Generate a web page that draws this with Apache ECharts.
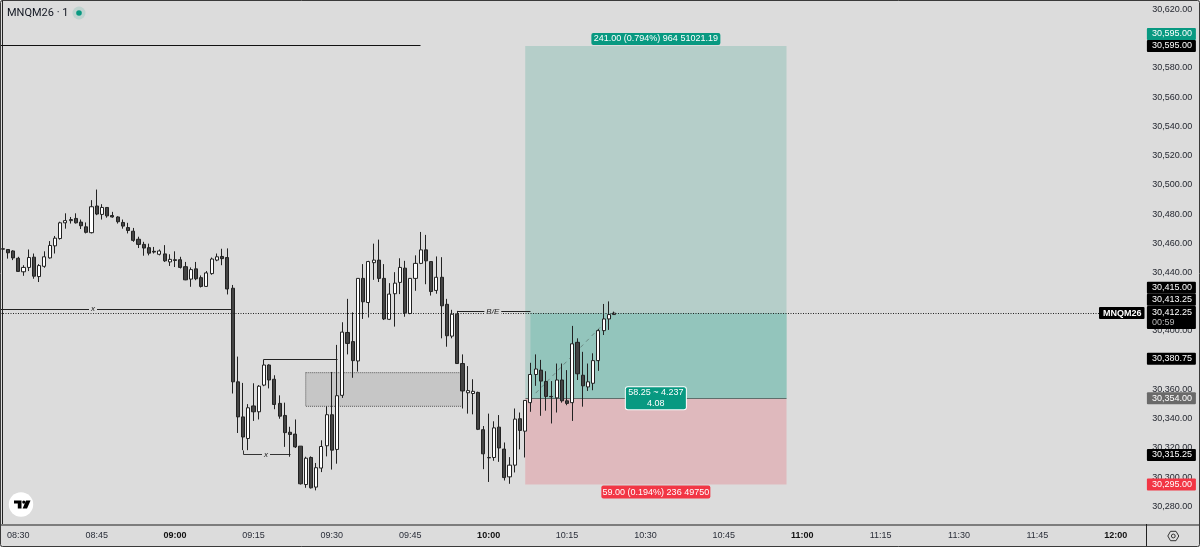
<!DOCTYPE html>
<html>
<head>
<meta charset="utf-8">
<style>html,body{margin:0;padding:0;background:#dcdcdc}#chart{width:1200px;height:547px}</style>
<script src="https://cdn.jsdelivr.net/npm/echarts@6/dist/echarts.min.js"></script>
</head>
<body>
<div id="chart"></div>
<script>
// MNQM26 one-minute session, prices are offsets from this base
const basePrice = 30000;
const sessionStart = 8 * 60 + 27;
const slotCount = 219;

const opens = [456.25,455.75,454.75,449.75,440.5,443.5,450.5,437.25,444.25,450,458.25,463.25,474,475.5,477,474.5,471.25,467.25,485.5,479.75,484.5,479,478,474.25,470.75,468.25,462.75,459.25,457,454.5,452.5,452.75,447.25,448.75,448.75,444,435.5,442.5,436.5,430.5,439.25,448.5,451,450.25,
429.25,365.25,341.25,326.5,348.75,344.75,363,376.75,367,350.5,342.25,330.75,329.5,321.25,295,313.5,293.25,306.25,321.5,342.75,319,356,399,392.75,379.5,436,419.5,446.75,448.5,436,408,425.5,433.25,443,412,436,446.25,455.5,447.5,427.75,436.75,418.25,396.5,411.5,377.75,357.75,357.25,358,332.5,313.5,313.5,334.25,319.25,300.25,308.25,340,331.5,351,370.25,373.25,365.5,355.25,354.25,366.5,352.25,351,392.25,369.75,361.75,364.25,379.75,400.25,408.25,411.25];
const closes = [456,453.5,450,440.75,443.5,450.25,437.5,444.75,450.75,458.5,463.5,474,475.5,476.25,474,472,467.5,485,480,484.5,478.75,478,474.75,471.75,468.75,462,459.25,456.75,453.25,454,454.75,448,449,448.25,443.5,435,442,435.75,430.5,439.75,449.25,450.75,449.5,428.75,
365.25,341.25,327.5,347.5,344.75,362.25,376.75,366.5,349.75,341.75,330.5,329.25,320.75,295.5,313,292.75,306.5,321,342.75,318.5,355.75,399.25,391.5,379.75,436,420,447.5,448.5,436,408.25,425.25,432.75,443.5,412.5,436,446.25,455.5,448,427,436.75,417.25,396.75,411.5,377.75,359,359.25,358.75,332.75,316,313.25,333.75,320,299.75,308.25,339.75,332,352.5,370.25,374,365.75,355.25,355,366.5,352.25,350.5,391.25,370.75,362.5,365.25,379.75,400.25,408.25,411.25,412.25];
const lows = [451.25,449.5,448.5,440.5,437.75,441,435.75,433.5,443.25,449.5,453,462.5,470,473.5,473.5,469.75,466.75,466.75,479.25,476.25,477.5,477.5,473.5,470,466.75,461,456.75,451.5,451.75,453,451.75,447.25,444.5,443.75,442.75,434.75,430.25,434.75,429.75,430.25,438.5,447.75,445,425,
357.25,330.25,318.5,318.5,338.5,339.5,362.25,360.75,346.5,340,320.75,314,320,295,292.75,292.25,291,303.5,314.25,305.25,309.25,354.25,384,368,372.25,408.25,409.25,435,433.5,407.5,407.5,403,425.25,409.75,411.5,427.5,445.75,432,424.25,425.5,395,389.25,395,377.75,347,343.5,343,332.25,305.5,296.75,311.25,310.5,297.75,295.5,303.25,319,313.5,344.75,362.5,342,345.5,336.75,344.25,351,349.25,338.5,366.5,348.25,359,359.5,372.75,397.25,400.75,411];
const highs = [458.75,456,455.25,450.75,445,455.75,453,445.75,454.5,461.5,465,474.75,480.5,478,480.5,476.25,474.25,489.5,496.75,486.75,484.5,481.5,478.5,476.25,474,470.5,464.5,461,459.75,457.5,455.75,458.75,452.5,454.5,450.75,447.25,443.5,447.25,438,441,450.25,453,456.25,456.5,
431.5,382.5,364.5,350,364.25,363,376.75,377.25,369.75,356,351,334.5,339.5,321.25,314,314.25,309.75,325.25,348.5,372,390.5,406,422,412.75,436,445.75,448,459.75,462.5,445.75,432.75,440.25,449.75,448,436,451.75,467.75,465.75,447.5,451,450.5,422,414.5,413.75,384,376,367,358.5,335,343.5,338.25,342.5,323.75,313.75,347,344.25,352.5,378.25,384,380.25,372.5,365.75,377.75,377.75,373.25,403.5,395,385.75,377.75,384.75,401.25,418.5,420.25,413.25];

// Position tool levels and the bars it spans
const targetPrice = 30595;
const entryPrice = 30354;
const stopPrice = 30295;
const lastPrice = 30412.25;
const positionFromBar = 100;
const positionFillBar = 101;
const positionToBar = 150;

// Drawn levels
const topLevel = [[-0.5, 30595], [80, 30595]];
const sweptHigh = [[-0.5, 30415], [44, 30415]];
const breakEven = [[87, 30413.25], [101, 30413.25]];
const swingHigh = [[50, 30376.75], [50, 30380.75], [64, 30380.75]];
const swingLow = [[46, 30318.5], [46, 30315.25], [55, 30315.25]];
const tradeLine = [[102, 30357.5], [117, 30412.25]];
const priceLine = [[-0.5, 30412.25], [210.5, 30412.25]];
const gapBox = [[58, 30371.5], [88, 30348.5]];

// Price scale
const yTicks = [30280,30300,30320,30340,30360,30380,30400,30420,30440,30460,30480,30500,30520,30540,30560,30580,30600,30620];
const tagPrices = [30595, 30595, 30415, 30413.25, 30412.25, 30380.75, 30354, 30315.25, 30295];
const tagTexts = ['30,595.00','30,595.00','30,415.00','30,413.25','30,412.25','30,380.75','30,354.00','30,315.25','30,295.00'];
const tagColors = ['#089981','#000000','#000000','#000000','#000000','#000000','#6a6a6a','#000000','#f23645'];
const tagNudges = [-12, 0, -21.4, -11.8, 4.5, -0.5, 0, 0, 0];

const FONT = '"Liberation Sans", Arial, sans-serif';
const minutes = Array.from({length: slotCount}, (_, i) => sessionStart + i);
const pad = n => String(n).padStart(2, '0');
const categories = minutes.map(m => pad(Math.floor(m / 60)) + ':' + pad(m % 60));
const candles = opens.map((o, i) => [o, closes[i], lows[i], highs[i]].map(v => v + basePrice));
const priceText = v => v.toLocaleString('en-US', {minimumFractionDigits: 2, maximumFractionDigits: 2});

// Polyline on the bar-index axis; horizontal and vertical runs snap to whole pixels so they stay crisp
function level(points, color, width, dash, z, soft) {
  return {
    type: 'custom', coordinateSystem: 'cartesian2d', xAxisIndex: 1, yAxisIndex: 0, data: points,
    silent: true, animation: false, z: z || 3, clip: true,
    renderItem(params, api) {
      if (params.dataIndex !== 0) return null;
      const pts = points.map(p => {
        const c = api.coord(p);
        return soft ? c : [Math.floor(c[0]) + 0.5, Math.floor(c[1]) + 0.5];
      });
      return {
        type: 'polyline', silent: true, shape: {points: pts},
        style: {stroke: color, lineWidth: width, fill: null, lineDash: dash || null}
      };
    }
  };
}

function zone(from, to, color, border) {
  return [{coord: from, itemStyle: Object.assign({color, opacity: 1}, border || {})}, {coord: to}];
}

function caption(x, y, text, label) {
  return {value: [x, y], label: Object.assign({show: true, formatter: text}, label)};
}

const solid = {opacity: 1};
const captionBox = {color: '#fff', fontFamily: FONT, fontSize: 9, borderRadius: 2, align: 'center'};
const tagData = tagPrices.map((p, i) => {
  const twoLine = i === 4;
  return {
    value: [slotCount - 0.5, p],
    label: {
      show: true, position: 'right', distance: 2.4, offset: [0, tagNudges[i]],
      formatter: twoLine ? `{a|${tagTexts[i]}}\n{b|00:59}` : tagTexts[i],
      rich: twoLine ? {
        a: {color: '#fff', fontSize: 9, fontFamily: FONT, lineHeight: 11, width: 44, padding: [2, 0, 0, 5]},
        b: {color: '#b8b8b8', fontSize: 9, fontFamily: FONT, lineHeight: 11, width: 44, padding: [0, 0, 0, 5]}
      } : undefined,
      color: '#fff', fontSize: 9, fontFamily: FONT, backgroundColor: tagColors[i],
      width: twoLine ? 49 : 44, height: twoLine ? 23 : 12,
      lineHeight: 12, padding: twoLine ? 0 : [0, 0, 0, 5], borderRadius: 1
    }
  };
});

const chart = echarts.init(document.getElementById('chart'), null, {renderer: 'canvas'});
chart.setOption({
  animation: false,
  backgroundColor: '#dcdcdc',
  grid: {left: 0, top: 0, width: 1144.5, height: 524, containLabel: false},
  xAxis: [{
    type: 'category', data: categories, boundaryGap: true,
    axisLine: {show: false},
    axisTick: {show: false}, splitLine: {show: false},
    axisLabel: {
      margin: 7.5, fontSize: 9, fontFamily: FONT, color: '#2a2e39', hideOverlap: false,
      interval: i => minutes[i] % 15 === 0,
      formatter: v => v.endsWith(':00') ? `{b|${v}}` : v,
      rich: {b: {fontSize: 9, fontFamily: FONT, fontWeight: 'bold', color: '#111'}}
    }
  }, {
    type: 'value', min: -0.5, max: slotCount - 0.5, show: false, position: 'top'
  }],
  yAxis: {
    type: 'value', position: 'right', offset: 2.2, min: 30268, max: 30626.4, scale: true,
    axisLine: {show: true, lineStyle: {color: '#222', width: 1}},
    axisTick: {show: false}, splitLine: {show: false},
    axisLabel: {customValues: yTicks, margin: 5.5, fontSize: 9, fontFamily: FONT, color: '#1f222b', formatter: priceText}
  },
  series: [
    {
      // Position tool fills and the gap box, below the candles
      type: 'line', xAxisIndex: 1, yAxisIndex: 0, data: [], symbol: 'none', silent: true, z: 1,
      markArea: {
        silent: true, z: 1,
        data: [
          zone([positionFromBar, targetPrice], [positionToBar, entryPrice], '#b5cec9'),
          zone([positionFromBar, entryPrice], [positionToBar, stopPrice], '#dfb9bd'),
          zone([positionFillBar, lastPrice], [positionToBar, entryPrice], '#93c5bc'),
          zone(gapBox[0], gapBox[1], '#c6c6c6', {borderColor: '#555', borderWidth: 1, borderType: 'dotted'})
        ]
      }
    },
    level([[positionFromBar, entryPrice], [positionToBar, entryPrice]], '#5f6e6b', 1, null, 1.5),
    level(topLevel, '#111', 1),
    level(sweptHigh, '#222', 1),
    level(breakEven, '#222', 1),
    level(swingHigh, '#222', 1),
    level(swingLow, '#333', 1),
    level(tradeLine, 'rgba(90,110,105,0.7)', 1, [4, 4], 3, true),
    {
      type: 'candlestick', name: 'MNQM26', xAxisIndex: 0, yAxisIndex: 0, data: candles, barWidth: 3.6, z: 4,
      silent: true, animation: false,
      itemStyle: {color: '#ffffff', color0: '#444444', borderColor: '#222222', borderColor0: '#222222', borderWidth: 1}
    },
    level(priceLine, '#222', 1, [1, 1.5], 5),
    {
      // Annotation captions and boxes on the position tool
      type: 'scatter', xAxisIndex: 1, yAxisIndex: 0, symbolSize: 0, silent: true, clip: false, z: 6, itemStyle: solid,
      data: [
        caption(17.3, 30415, 'x', {position: 'inside', fontSize: 8, fontStyle: 'italic', fontFamily: FONT, color: '#222', backgroundColor: '#dcdcdc', padding: [0, 2]}),
        caption(50.4, 30315.25, 'x', {position: 'inside', fontSize: 8, fontStyle: 'italic', fontFamily: FONT, color: '#222', backgroundColor: '#dcdcdc', padding: [0, 2]}),
        caption(93.8, 30413.25, 'B/E', {position: 'inside', fontSize: 8, fontStyle: 'italic', fontFamily: FONT, color: '#222', backgroundColor: '#dcdcdc', padding: [0, 2]}),
        caption(125, targetPrice, '241.00 (0.794%) 964 51021.19', Object.assign({}, captionBox, {position: 'top', distance: 1, backgroundColor: '#089981', width: 129, height: 12, lineHeight: 12})),
        caption(125, entryPrice, '58.25 ~ 4.237\n4.08', Object.assign({}, captionBox, {position: 'inside', backgroundColor: '#089981', borderColor: '#fff', borderWidth: 1, width: 60, height: 22, lineHeight: 10.5})),
        caption(125, stopPrice, '59.00 (0.194%) 236 49750', Object.assign({}, captionBox, {position: 'bottom', distance: 1, backgroundColor: '#f23645', width: 109, height: 13, lineHeight: 13}))
      ]
    },
    {
      // Price tags stacked on the scale
      type: 'scatter', xAxisIndex: 1, yAxisIndex: 0, symbolSize: 0, silent: true, clip: false, z: 10, itemStyle: solid, data: tagData
    },
    {
      // Symbol tag at the end of the price line
      type: 'scatter', xAxisIndex: 1, yAxisIndex: 0, symbolSize: 0, silent: true, clip: false, z: 10, itemStyle: solid,
      data: [{value: [slotCount - 0.5, lastPrice], label: {
        show: true, formatter: 'MNQM26', position: 'left', distance: 0, color: '#fff', fontSize: 9, fontFamily: FONT,
        fontWeight: 'bold', backgroundColor: '#000', padding: [2, 3, 1, 4], borderRadius: 1
      }}]
    }
  ],
  graphic: [
    {type: 'line', silent: true, z: 20, shape: {x1: 0, y1: 525, x2: 1200, y2: 525}, style: {stroke: '#7d7d7d', lineWidth: 2}},
    {type: 'line', silent: true, z: 20, shape: {x1: 1146.5, y1: 524, x2: 1146.5, y2: 546}, style: {stroke: '#222', lineWidth: 1}},
    {type: 'rect', silent: true, z: 30, shape: {x: 0.5, y: 0.5, width: 1199, height: 546, r: 2}, style: {fill: 'none', stroke: '#3a3a3a', lineWidth: 1}},
    {type: 'text', silent: true, z: 20, style: {x: 7, y: 13, text: 'MNQM26 · 1', font: '11px Roboto', fill: '#131722', verticalAlign: 'middle'}},
    {type: 'circle', silent: true, z: 20, shape: {cx: 79, cy: 13, r: 6.5}, style: {fill: 'rgba(8,153,129,0.14)'}},
    {type: 'circle', silent: true, z: 21, shape: {cx: 79, cy: 13, r: 2.8}, style: {fill: '#089981'}},
    {type: 'circle', silent: true, z: 20, shape: {cx: 21, cy: 504.5, r: 12.2}, style: {fill: '#ffffff'}},
    {type: 'polygon', silent: true, z: 21, shape: {points: [[14, 500.5], [21.5, 500.5], [21.5, 508.5], [17.8, 508.5], [17.8, 503.6], [14, 503.6]]}, style: {fill: '#000'}},
    {type: 'circle', silent: true, z: 21, shape: {cx: 23.8, cy: 502.1, r: 1.6}, style: {fill: '#000'}},
    {type: 'polygon', silent: true, z: 21, shape: {points: [[26, 500.5], [30.5, 500.5], [27, 508.5], [22.6, 508.5]]}, style: {fill: '#000'}},
    {type: 'polygon', silent: true, z: 21, shape: {points: [[1167.8, 536], [1170.5, 531.3], [1176, 531.3], [1178.8, 536], [1176, 540.7], [1170.5, 540.7]]}, style: {fill: 'none', stroke: '#333', lineWidth: 1}},
    {type: 'circle', silent: true, z: 21, shape: {cx: 1173.3, cy: 536, r: 1.9}, style: {fill: 'none', stroke: '#333', lineWidth: 1}}
  ]
});
</script>
</body>
</html>
